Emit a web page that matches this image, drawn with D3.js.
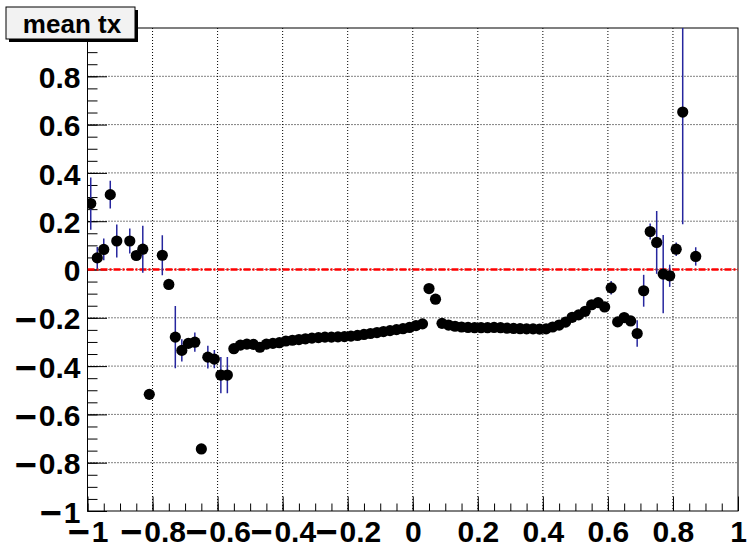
<!DOCTYPE html>
<html>
<head>
<meta charset="utf-8">
<script src="https://cdn.jsdelivr.net/npm/d3@7"></script>
<style>
  body { margin: 0; background: #fff; }
  svg { display: block; }
</style>
</head>
<body>
<div id="chart"></div>
<script>
/* ── data (profile: mean tx per bin) ── */
const histTitle = "mean tx";

const binX = [
  -0.99, -0.97, -0.95, -0.93, -0.91, -0.87, -0.85, -0.83, -0.81, -0.77,
  -0.75, -0.73, -0.71, -0.69, -0.67, -0.65, -0.63, -0.61, -0.59, -0.57,
  -0.55, -0.53, -0.51, -0.49, -0.47, -0.45, -0.43, -0.41, -0.39, -0.37,
  -0.35, -0.33, -0.31, -0.29, -0.27, -0.25, -0.23, -0.21, -0.19, -0.17,
  -0.15, -0.13, -0.11, -0.09, -0.07, -0.05, -0.03, -0.01, 0.01, 0.03,
  0.05, 0.07, 0.09, 0.11, 0.13, 0.15, 0.17, 0.19, 0.21, 0.23,
  0.25, 0.27, 0.29, 0.31, 0.33, 0.35, 0.37, 0.39, 0.41, 0.43,
  0.45, 0.47, 0.49, 0.51, 0.53, 0.55, 0.57, 0.59, 0.61, 0.63,
  0.65, 0.67, 0.69, 0.71, 0.73, 0.75, 0.77, 0.79, 0.81, 0.83,
  0.87
];

const meanTx = [
  0.273, 0.048, 0.083, 0.310, 0.118, 0.118, 0.058, 0.084, -0.517, 0.059,
  -0.062, -0.280, -0.335, -0.306, -0.301, -0.743, -0.363, -0.371, -0.437, -0.437,
  -0.328, -0.313, -0.309, -0.310, -0.322, -0.309, -0.306, -0.303, -0.296, -0.293,
  -0.290, -0.287, -0.284, -0.282, -0.280, -0.280, -0.279, -0.278, -0.276, -0.273,
  -0.269, -0.265, -0.261, -0.257, -0.253, -0.249, -0.245, -0.240, -0.232, -0.225,
  -0.079, -0.123, -0.223, -0.230, -0.235, -0.238, -0.240, -0.241, -0.241, -0.241,
  -0.240, -0.241, -0.243, -0.244, -0.245, -0.246, -0.246, -0.247, -0.246, -0.238,
  -0.230, -0.218, -0.198, -0.188, -0.173, -0.146, -0.137, -0.155, -0.076, -0.217,
  -0.199, -0.213, -0.265, -0.088, 0.157, 0.112, -0.019, -0.026, 0.084, 0.652,
  0.054
];

const errTx = [
  0.108, 0.045, 0.045, 0.057, 0.068, 0.052, 0.020, 0.097, 0.010, 0.083,
  0.015, 0.129, 0.046, 0.020, 0.040, 0.010, 0.047, 0.038, 0.075, 0.075,
  0.012, 0.008, 0.008, 0.008, 0.008, 0.008, 0.008, 0.008, 0.008, 0.008,
  0.008, 0.008, 0.008, 0.008, 0.008, 0.008, 0.008, 0.008, 0.008, 0.008,
  0.008, 0.008, 0.008, 0.008, 0.008, 0.008, 0.008, 0.008, 0.008, 0.008,
  0.010, 0.010, 0.008, 0.008, 0.008, 0.008, 0.008, 0.008, 0.008, 0.008,
  0.008, 0.008, 0.008, 0.008, 0.008, 0.008, 0.008, 0.008, 0.008, 0.008,
  0.008, 0.008, 0.008, 0.008, 0.008, 0.008, 0.008, 0.010, 0.028, 0.010,
  0.012, 0.010, 0.055, 0.066, 0.033, 0.130, 0.162, 0.046, 0.028, 0.465,
  0.038
];

const xTickVals   = [-1, -0.8, -0.6, -0.4, -0.2, 0, 0.2, 0.4, 0.6, 0.8, 1];
const xTickLabels = ["\u22121", "\u22120.8", "\u22120.6", "\u22120.4", "\u22120.2", "0", "0.2", "0.4", "0.6", "0.8", "1"];
const yTickVals   = [-1, -0.8, -0.6, -0.4, -0.2, 0, 0.2, 0.4, 0.6, 0.8, 1];
const yTickLabels = ["\u22121", "\u22120.8", "\u22120.6", "\u22120.4", "\u22120.2", "0", "0.2", "0.4", "0.6", "0.8", "1"];
const gridVals    = [-0.8, -0.6, -0.4, -0.2, 0, 0.2, 0.4, 0.6, 0.8];
const refLineY    = 0;

/* ── layout ── */
const W = 749, H = 546;
const margin = { top: 28, right: 11, bottom: 35, left: 87.5 };
const w = W - margin.left - margin.right;
const h = H - margin.top - margin.bottom;
const font = "'Liberation Sans', Arial, Helvetica, sans-serif";
const labelPx = 30;

const svg = d3.select("#chart").append("svg")
  .attr("width", W).attr("height", H)
  .style("background", "#fff");

const g = svg.append("g")
  .attr("transform", `translate(${margin.left},${margin.top})`);

const x = d3.scaleLinear().domain([-1, 1]).range([0, w]);
const y = d3.scaleLinear().domain([-1, 1]).range([h, 0]);

const minorX = d3.range(-1, 1.0001, 0.05).map(d => +d.toFixed(2));
const minorY = minorX;

/* grid (dotted) */
g.append("g").selectAll("line").data(gridVals).join("line")
  .attr("x1", d => x(d)).attr("x2", d => x(d))
  .attr("y1", 0).attr("y2", h)
  .attr("stroke", "#000").attr("stroke-width", 1)
  .attr("stroke-dasharray", "1,2");
g.append("g").selectAll("line").data(gridVals).join("line")
  .attr("x1", 0).attr("x2", w)
  .attr("y1", d => y(d)).attr("y2", d => y(d))
  .attr("stroke", "#000").attr("stroke-width", 1)
  .attr("stroke-dasharray", "1,2");

/* axes, ticks pointing inward like ROOT */
const styleAxis = sel => {
  sel.selectAll("path.domain").remove();
  sel.selectAll("line").attr("stroke", "#000").attr("stroke-width", 1);
  sel.selectAll("text")
    .attr("fill", "#000")
    .style("font-family", font)
    .style("font-weight", "bold")
    .style("font-size", labelPx + "px");
};

// ROOT draws a long minus; bigger glyph in its own tspan, nudged down a bit.
// the text's em-based dy is folded into y first so the tspans don't lose it
const longMinus = (sel, dyEm) => sel.selectAll("text").each(function () {
  const t = d3.select(this);
  t.attr("dy", null).attr("y", (+t.attr("y") || 0) + dyEm * labelPx);
  const s = t.text();
  if (s[0] !== "\u2212") return;
  t.text(null);
  t.append("tspan").style("font-size", "38px").attr("dy", 3.5).text("\u2212");
  t.append("tspan").attr("dy", -3.5).attr("dx", 2).text(s.slice(1));
});

g.append("g")
  .attr("transform", `translate(0,${h})`)
  .call(d3.axisBottom(x).tickValues(minorX).tickSize(-7.5).tickSizeOuter(0).tickFormat(""))
  .call(styleAxis);
g.append("g")
  .attr("transform", `translate(0,${h})`)
  .call(d3.axisBottom(x).tickValues(xTickVals).tickSize(-14.5).tickSizeOuter(0)
    .tickPadding(9).tickFormat((d, i) => xTickLabels[i]))
  .call(styleAxis)
  .call(longMinus, 0.72);

g.append("g")
  .call(d3.axisLeft(y).tickValues(minorY).tickSize(-10).tickSizeOuter(0).tickFormat(""))
  .call(styleAxis);
g.append("g")
  .call(d3.axisLeft(y).tickValues(yTickVals).tickSize(-19.5).tickSizeOuter(0)
    .tickPadding(7).tickFormat((d, i) => yTickLabels[i]))
  .call(styleAxis)
  .call(longMinus, 0.37);

/* frame */
g.append("rect")
  .attr("x", 0).attr("y", 0).attr("width", w).attr("height", h)
  .attr("fill", "none").attr("stroke", "#000").attr("stroke-width", 1);

/* clip for data */
svg.append("defs").append("clipPath").attr("id", "frame")
  .append("rect").attr("x", 0).attr("y", 0).attr("width", w).attr("height", h);

const data = binX.map((bx, i) => ({ x: bx, v: meanTx[i], e: errTx[i] }));
const plot = g.append("g").attr("clip-path", "url(#frame)");

/* reference line at 0, red dash-dot */
plot.append("line")
  .attr("x1", 0).attr("x2", w)
  .attr("y1", y(refLineY)).attr("y2", y(refLineY))
  .attr("stroke", "#ff0000").attr("stroke-width", 2.5)
  .attr("stroke-dasharray", "7,2,2,2");

/* error bars */
plot.append("g").selectAll("line").data(data).join("line")
  .attr("x1", d => x(d.x)).attr("x2", d => x(d.x))
  .attr("y1", d => y(d.v + d.e)).attr("y2", d => y(d.v - d.e))
  .attr("stroke", "#26269e").attr("stroke-width", 1.5);

/* markers */
plot.append("g").selectAll("circle").data(data).join("circle")
  .attr("cx", d => x(d.x)).attr("cy", d => y(d.v))
  .attr("r", 5.6)
  .attr("fill", "#000");

/* title box with shadow */
const tb = { x: 6, y: 7, w: 129, h: 32 };
svg.append("rect")
  .attr("x", tb.x + 3).attr("y", tb.y + 3).attr("width", tb.w).attr("height", tb.h)
  .attr("fill", "#000");
svg.append("rect")
  .attr("x", tb.x).attr("y", tb.y).attr("width", tb.w).attr("height", tb.h)
  .attr("fill", "#f2f2f2").attr("stroke", "#000").attr("stroke-width", 1);
svg.append("text")
  .attr("x", 72).attr("y", 33)
  .attr("text-anchor", "middle")
  .style("font-family", font)
  .style("font-weight", "bold")
  .style("font-size", "26px")
  .text(histTitle);
</script>
</body>
</html>
